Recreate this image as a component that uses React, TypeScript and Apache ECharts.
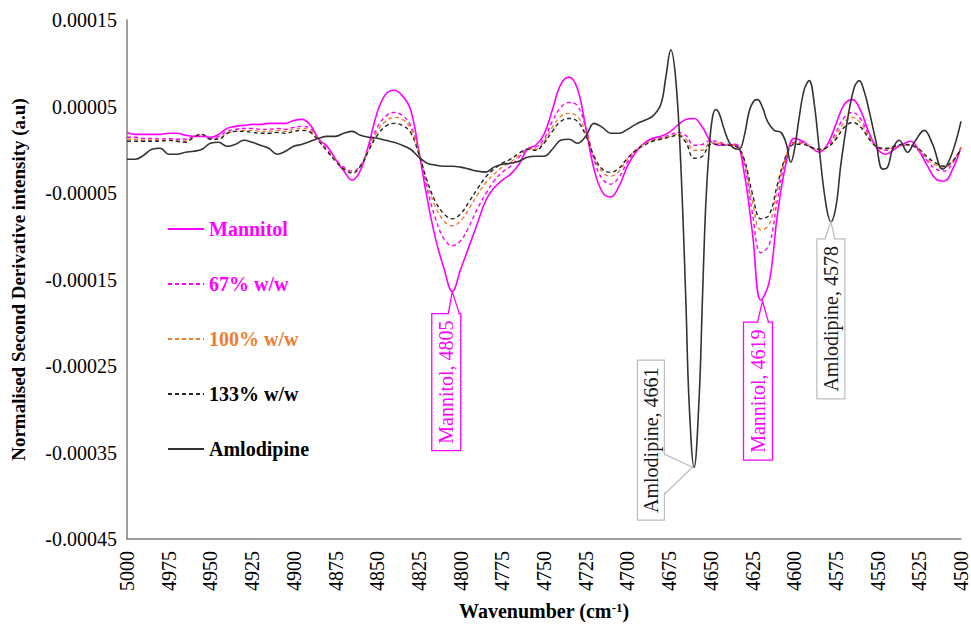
import React, { useEffect, useRef } from "react";
import * as echarts from "echarts";

const FONT = "'Liberation Serif', 'Times New Roman', Times, serif";
const E5 = 1e-5; // values below are stored in units of 1e-5

const WAVENUMBERS = [
  5000, 4995, 4990, 4985, 4980, 4975, 4970, 4965, 4960, 4955,
  4950, 4945, 4940, 4935, 4930, 4925, 4920, 4915, 4910, 4905,
  4900, 4895, 4890, 4885, 4880, 4875, 4870, 4865, 4860, 4855,
  4850, 4845, 4840, 4835, 4830, 4825, 4820, 4815, 4810, 4805,
  4800, 4795, 4790, 4785, 4780, 4775, 4770, 4765, 4760, 4755,
  4750, 4745, 4740, 4735, 4730, 4725, 4720, 4715, 4710, 4705,
  4700, 4695, 4690, 4685, 4680, 4675, 4670, 4665, 4660, 4655,
  4650, 4645, 4640, 4635, 4630, 4625, 4620, 4615, 4610, 4605,
  4600, 4595, 4590, 4585, 4580, 4575, 4570, 4565, 4560, 4555,
  4550, 4545, 4540, 4535, 4530, 4525, 4520, 4515, 4510, 4505,
  4500,
];

const MANNITOL = [
  2.0, 1.78, 1.78, 1.78, 1.78, 1.9, 1.9, 1.67, 1.55, 1.55,
  1.44, 1.78, 2.47, 2.7, 2.82, 2.93, 2.93, 3.05, 3.05, 3.05,
  3.39, 3.51, 2.82, 1.21, 0.4, -1.09, -2.47, -3.51, -2.36, 0.63,
  4.31, 6.38, 6.87, 6.26, 4.66, -0.2, -5.69, -10.3, -13.7, -16.4,
  -13.85, -11.2, -8.56, -5.9, -4.43, -3.51, -2.82, -1.67, 0.06, 0.52,
  1.78, 4.6, 7.53, 8.4, 7.07, 2.59, -2.24, -4.89, -5.46, -4.2,
  -1.9, -0.29, 0.75, 1.32, 1.55, 2.0, 2.82, 3.51, 3.62, 2.59,
  0.98, 0.52, 0.52, 0.63, -2.7, -9.7, -17.4, -15.3, -7.41, -1.67,
  1.32, 0.98, 0.29, -0.29, 0.63, 2.93, 5.23, 5.8, 4.43, 1.9,
  0.06, -0.52, 0.06, 0.63, 0.98, -0.17, -1.9, -3.39, -3.62, -2.24,
  0.29,
];

const WW67 = [
  1.44, 1.44, 1.32, 1.32, 1.21, 1.32, 1.21, 1.21, 1.55, 1.78,
  1.32, 1.55, 2.13, 2.36, 2.47, 2.47, 2.36, 2.36, 2.47, 2.36,
  2.59, 2.7, 2.47, 1.21, 0.06, -1.09, -2.01, -2.47, -1.78, 0.29,
  2.59, 3.85, 4.31, 3.97, 2.82, -0.17, -4.54, -7.99, -10.29, -11.09,
  -10.52, -8.91, -6.84, -5.11, -3.62, -2.59, -1.9, -0.86, 0.06, 0.29,
  1.21, 3.28, 4.89, 5.46, 5.11, 2.59, -1.09, -3.39, -3.97, -3.16,
  -1.44, -0.17, 0.75, 1.21, 1.44, 1.67, 2.01, 1.67, 0.52, 0.63,
  1.09, 0.86, 0.63, 0.52, -1.67, -7.41, -11.9, -11.0, -5.69, -1.09,
  0.86, 0.86, 0.29, -0.06, 0.4, 2.01, 3.74, 4.31, 3.51, 1.67,
  0.29, -0.06, 0.29, 0.52, 0.52, -0.17, -1.32, -2.24, -2.47, -1.55,
  0.29,
];

const WW100 = [
  1.21, 1.21, 1.09, 1.09, 1.09, 1.09, 0.98, 0.98, 1.44, 1.78,
  1.21, 1.32, 1.9, 2.13, 2.24, 2.24, 2.13, 2.13, 2.24, 2.13,
  2.36, 2.47, 2.24, 1.09, -0.06, -1.21, -2.13, -2.59, -1.78, 0.06,
  2.13, 3.28, 3.74, 3.51, 2.47, -0.29, -3.97, -6.61, -8.22, -8.79,
  -8.22, -6.84, -5.23, -3.85, -2.82, -2.01, -1.44, -0.63, 0.06, 0.06,
  0.98, 2.59, 3.85, 4.2, 3.85, 2.01, -0.86, -2.59, -3.05, -2.47,
  -1.09, -0.06, 0.63, 1.09, 1.32, 1.55, 1.78, 1.21, -0.06, -0.06,
  0.86, 0.75, 0.52, 0.52, -1.32, -6.03, -9.25, -8.68, -4.54, -0.86,
  0.75, 0.75, 0.29, -0.06, 0.29, 1.55, 3.16, 3.74, 3.05, 1.44,
  0.29, 0.06, 0.29, 0.52, 0.52, -0.06, -1.09, -1.78, -2.01, -1.32,
  0.29,
];

const WW133 = [
  0.98, 0.98, 0.98, 0.98, 0.98, 1.09, 0.98, 0.86, 1.44, 1.78,
  1.21, 1.21, 1.9, 2.13, 2.13, 2.01, 1.9, 1.9, 2.01, 1.9,
  2.13, 2.24, 2.01, 0.98, -0.17, -1.32, -2.24, -2.7, -1.9, -0.06,
  1.67, 2.7, 3.05, 2.82, 2.01, -0.52, -3.62, -6.03, -7.41, -7.99,
  -7.41, -6.03, -4.54, -3.16, -2.24, -1.55, -1.09, -0.4, 0.06, -0.06,
  0.75, 2.13, 3.28, 3.62, 3.28, 1.67, -0.75, -2.24, -2.59, -2.13,
  -0.98, -0.06, 0.52, 0.98, 1.21, 1.44, 1.67, 0.86, -0.98, -0.75,
  0.63, 0.63, 0.52, 0.4, -1.09, -5.11, -7.99, -7.53, -3.97, -0.75,
  0.63, 0.63, 0.29, 0.06, 0.29, 1.21, 2.59, 3.16, 2.59, 1.21,
  0.29, 0.17, 0.4, 0.63, 0.52, 0.06, -0.86, -1.55, -1.9, -1.32,
  0.06,
];

const AMLODIPINE_WN = [
  ...WAVENUMBERS.filter((w) => w >= 4680),
  4677, 4674, 4671, 4668, 4665, 4663, 4660, 4657, 4655, 4653,
  4651, 4649, 4647, 4645, 4642, 4639, 4636, 4633, 4630, 4627,
  4624, 4622, 4619, 4616, 4612, 4608, 4605, 4602, 4600, 4597,
  4594, 4591, 4588, 4585, 4581, 4578, 4575, 4572, 4568, 4564,
  4561, 4558, 4555, 4551, 4547, 4544, 4541, 4537, 4532, 4528,
  4522, 4517, 4511, 4506, 4500,
];

const AMLODIPINE = [
  -1.09, -1.09, -0.63, 0.06, 0.17, -0.52, -0.52, -0.29, -0.17, 0.06,
  0.75, 0.86, 0.4, 0.63, 1.09, 0.86, 0.52, 0.17, -0.52, -0.17,
  0.4, 0.63, 0.98, 1.32, 1.55, 1.55, 1.9, 2.13, 1.67, 1.44,
  1.32, 1.09, 0.86, 0.52, 0.06, -0.86, -1.55, -1.78, -1.9, -1.9,
  -2.01, -2.24, -2.47, -2.59, -2.01, -1.67, -1.55, -1.32, -0.86, -0.75,
  -0.75, 0.06, 1.09, 1.21, 0.75, 1.55, 3.05, 2.59, 1.9, 1.9,
  2.36, 2.93, 3.39, 3.85, 5.23,
  8.33, 11.55, 8.1, -1.67, -17.18, -29.25, -36.72, -28.7, -17.18, -6.26,
  0.06, 3.74, 4.66, 4.2, 2.36, 0.86, 0.17, 0.06, 1.55, 4.43,
  5.69, 5.8, 4.89, 3.28, 2.24, 2.01, 0.86, -1.44, -0.17, 3.74,
  6.95, 7.99, 5.34, 0.06, -6.26, -8.33, -6.61, -1.67, 3.51, 7.19,
  7.99, 6.72, 4.43, 0.98, -2.24, -2.01, 0.06, 1.09, -0.29, 0.86,
  2.24, 0.63, -2.24, -0.75, 3.28,
];

const SERIES_NAMES = ["Mannitol", "67% w/w", "100% w/w", "133% w/w", "Amlodipine"];
const Y_LABELS = [0.00015, 0.00005, -0.00005, -0.00015, -0.00025, -0.00035, -0.00045];

const ANNOT_LABELS = ["Mannitol, 4805", "Mannitol, 4619", "Amlodipine, 4661", "Amlodipine, 4578"];
const ANNOT_WN = [4805, 4619, 4661, 4578];
const ANNOT_VAL = [-16.4, -17.5, -36.7, -8.33];

const MAGENTA = "#FF00FF";
const ORANGE = "#ED7D31";
const DARK = "#262626";
const AMLO_COLOR = "#333333";

// callout layout (relative to the tip pixel)
const CALLOUTS = [
  { side: "top", dx: -6, dy: 22, w: 29, h: 137, b1: -4, b2: 7, border: MAGENTA, color: MAGENTA },
  { side: "top", dx: -4.5, dy: 21, w: 29, h: 138, b1: -5, b2: 6, border: MAGENTA, color: MAGENTA },
  { side: "right", dx: -41.5, dy: -107, w: 27, h: 160, b1: -13, b2: 27, border: "#BFBFBF", color: "#1a1a1a" },
  { side: "top", dx: 0, dy: 17, w: 28, h: 160, b1: -6, b2: 4, border: "#BFBFBF", color: "#1a1a1a" },
];

function zip(xs: number[], ys: number[]) {
  return xs.map((x, i) => [x, ys[i] * E5]);
}

export default function App() {
  const ref = useRef<HTMLDivElement>(null);

  useEffect(() => {
    document.body.style.margin = "0";
    if (!ref.current) return;
    const chart = echarts.init(ref.current, undefined, { renderer: "svg" });

    const lineSeries = (name: string, data: number[][], color: string, dashed: boolean, width: number) => ({
      name,
      type: "line",
      data,
      symbol: "none",
      smooth: 0.4,
      lineStyle: { color, width, type: dashed ? [4, 3] : "solid" },
      itemStyle: { color },
    });

    const option: any = {
      animation: false,
      backgroundColor: "#ffffff",
      textStyle: { fontFamily: FONT },
      grid: { left: 127, right: 8, top: 20, bottom: 84 },
      legend: {
        orient: "vertical",
        left: 167,
        top: 219,
        padding: 0,
        itemWidth: 36,
        itemHeight: 14,
        itemGap: 35,
        selectedMode: false,
        itemStyle: { opacity: 0, color: "rgba(0,0,0,0)", borderWidth: 0 },
        textStyle: { fontFamily: FONT, fontSize: 20, fontWeight: "bold" },
        data: [
          { name: SERIES_NAMES[0], textStyle: { color: MAGENTA } },
          { name: SERIES_NAMES[1], textStyle: { color: MAGENTA } },
          { name: SERIES_NAMES[2], textStyle: { color: ORANGE } },
          { name: SERIES_NAMES[3], textStyle: { color: "#000" } },
          { name: SERIES_NAMES[4], textStyle: { color: "#000" } },
        ],
      },
      xAxis: {
        type: "value",
        min: 4500,
        max: 5000,
        interval: 25,
        inverse: true,
        axisLine: { onZero: false, lineStyle: { color: "#7f7f7f", width: 1.5 } },
        axisTick: { show: false },
        splitLine: { show: false },
        axisLabel: {
          rotate: 90,
          fontSize: 20,
          fontFamily: FONT,
          color: "#000",
          margin: 12,
          formatter: (v: number) => String(Math.round(v)),
        },
        name: "{a|Wavenumber (cm}{b|-1}{a|)}",
        nameLocation: "middle",
        nameGap: 62,
        nameTextStyle: {
          rich: {
            a: { fontFamily: FONT, fontSize: 20, fontWeight: "bold", color: "#000" },
            b: { fontFamily: FONT, fontSize: 13, fontWeight: "bold", color: "#000", verticalAlign: "top" },
          },
        },
      },
      yAxis: {
        type: "value",
        min: -0.00045,
        max: 0.00015,
        interval: 0.00005,
        axisLine: { show: true, onZero: false, lineStyle: { color: "#7f7f7f", width: 1.5 } },
        axisTick: { show: false },
        splitLine: { show: false },
        axisLabel: {
          fontSize: 20,
          fontFamily: FONT,
          color: "#000",
          margin: 10,
          formatter: (v: number) => (Y_LABELS.some((t) => Math.abs(t - v) < 1e-9) ? v.toFixed(5) : ""),
        },
        name: "Normalised Second Derivative intensity (a.u)",
        nameLocation: "middle",
        nameGap: 99,
        nameTextStyle: { fontFamily: FONT, fontSize: 19, fontWeight: "bold", color: "#000" },
      },
      series: [
        lineSeries(SERIES_NAMES[0], zip(WAVENUMBERS, MANNITOL), MAGENTA, false, 1.6),
        lineSeries(SERIES_NAMES[1], zip(WAVENUMBERS, WW67), MAGENTA, true, 1.4),
        lineSeries(SERIES_NAMES[2], zip(WAVENUMBERS, WW100), ORANGE, true, 1.4),
        lineSeries(SERIES_NAMES[3], zip(WAVENUMBERS, WW133), DARK, true, 1.4),
        lineSeries(SERIES_NAMES[4], zip(AMLODIPINE_WN, AMLODIPINE), AMLO_COLOR, false, 1.6),
      ],
    };
    chart.setOption(option);

    const graphics: any[] = [];
    ANNOT_LABELS.forEach((label, i) => {
      const pt = chart.convertToPixel({ xAxisIndex: 0, yAxisIndex: 0 }, [ANNOT_WN[i], ANNOT_VAL[i] * E5]) as number[];
      const tx = pt[0];
      const ty = pt[1];
      const L = CALLOUTS[i];
      const bx = tx + L.dx - L.w / 2;
      const by = ty + L.dy;
      let p1: number[], p2: number[], c1: number[], c2: number[];
      if (L.side === "top") {
        p1 = [tx + L.b1, by];
        p2 = [tx + L.b2, by];
        c1 = [tx + L.b1 + 0.6, by + 1.5];
        c2 = [tx + L.b2 - 0.6, by + 1.5];
      } else {
        p1 = [bx + L.w, ty + L.b1];
        p2 = [bx + L.w, ty + L.b2];
        c1 = [bx + L.w - 1.5, ty + L.b1 + 0.6];
        c2 = [bx + L.w - 1.5, ty + L.b2 - 0.6];
      }
      graphics.push({
        type: "rect",
        z: 100,
        shape: { x: bx, y: by, width: L.w, height: L.h },
        style: { fill: "#ffffff", stroke: L.border, lineWidth: 1.3 },
      });
      graphics.push({
        type: "polygon",
        z: 101,
        shape: { points: [c1, [tx, ty], c2] },
        style: { fill: "#ffffff", stroke: null },
      });
      graphics.push({
        type: "polyline",
        z: 102,
        shape: { points: [p1, [tx, ty], p2] },
        style: { fill: null, stroke: L.border, lineWidth: 1.3 },
      });
      graphics.push({
        type: "text",
        z: 103,
        x: bx + L.w / 2,
        y: by + L.h / 2,
        rotation: Math.PI / 2,
        style: {
          text: label,
          fill: L.color,
          fontFamily: FONT,
          fontSize: 20,
          align: "center",
          verticalAlign: "middle",
        },
      });
    });
    chart.setOption({ graphic: graphics });

    return () => {
      chart.dispose();
    };
  }, []);

  return <div ref={ref} style={{ width: 971, height: 626 }} />;
}
